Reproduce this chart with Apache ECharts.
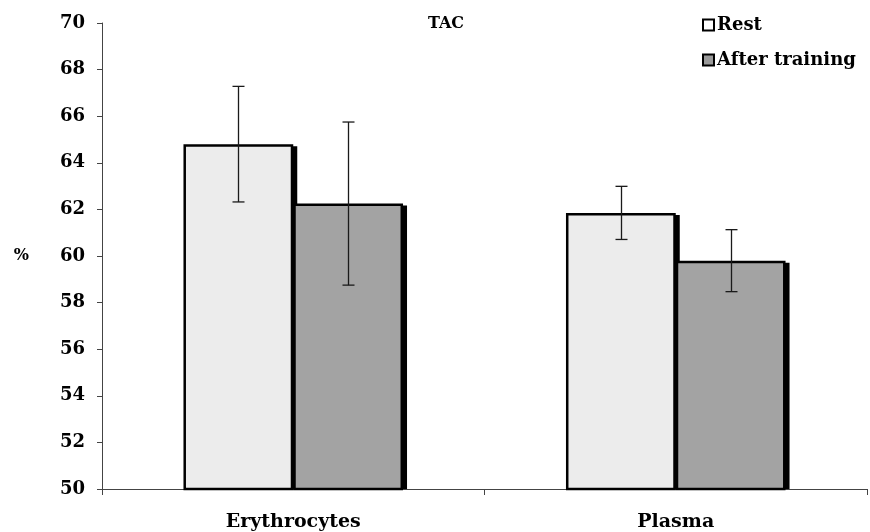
<!DOCTYPE html>
<html>
<head>
<meta charset="utf-8">
<script src="https://cdn.jsdelivr.net/npm/echarts@6/dist/echarts.min.js"></script>
<style>html,body{margin:0;padding:0;background:#fff}#c{width:870px;height:532px}</style>
</head>
<body>
<div id="c"></div>
<script>
var categories = ['Erythrocytes', 'Plasma'];
var seriesNames = ['Rest', 'After training'];
var restValues = [64.8, 61.85];
var afterValues = [62.25, 59.8];
var restErr = [2.48, 1.14];
var afterErr = [3.5, 1.33];
var yTicks = [50, 52, 54, 56, 58, 60, 62, 64, 66, 68, 70];

var chart = echarts.init(document.getElementById('c'), null, {renderer: 'canvas'});
var BAR_PCT = 0.287;
var serif = '"DejaVu Serif", "Liberation Serif", serif';

function errSeries(vals, errs, side) {
  var data = vals.map(function (v, i) { return [i, v - errs[i], v + errs[i]]; });
  return {
    type: 'custom',
    z: 10,
    silent: true,
    renderItem: function (params, api) {
      var ci = api.value(0);
      var lo = api.coord([ci, api.value(1)]);
      var hi = api.coord([ci, api.value(2)]);
      var catW = api.size([1, 0])[0];
      var x = Math.round(lo[0] + side * catW * BAR_PCT / 2) + 0.5;
      var cap = 6;
      var st = {stroke: '#1a1a1a', lineWidth: 1.3};
      return {
        type: 'group',
        children: [
          {type: 'line', shape: {x1: x, y1: lo[1], x2: x, y2: hi[1]}, style: st},
          {type: 'line', shape: {x1: x - cap, y1: lo[1], x2: x + cap, y2: lo[1]}, style: st},
          {type: 'line', shape: {x1: x - cap, y1: hi[1], x2: x + cap, y2: hi[1]}, style: st}
        ]
      };
    },
    data: data
  };
}

// drop shadow behind each bar (offset right/down), drawn via the axes
function shadowSeries(vals, side) {
  var data = vals.map(function (v, i) { return [i, v]; });
  return {
    type: 'custom',
    z: 1,
    silent: true,
    renderItem: function (params, api) {
      var ci = api.value(0);
      var top = api.coord([ci, api.value(1)]);
      var base = api.coord([ci, 50]);
      var catW = api.size([1, 0])[0];
      var bw = catW * BAR_PCT;
      var x0 = side < 0 ? top[0] - bw : top[0];
      return {
        type: 'rect',
        shape: {x: x0 + 4, y: top[1] + 2, width: bw, height: base[1] - top[1] - 2},
        style: {fill: '#000'}
      };
    },
    data: data
  };
}

var barStyle = function (color) {
  return {color: color, borderColor: '#000', borderWidth: 2.5};
};

chart.setOption({
  animation: false,
  backgroundColor: '#fff',
  title: {
    text: 'TAC',
    left: 441,
    top: 11,
    textAlign: 'center',
    textStyle: {fontFamily: serif, fontWeight: 'bold', fontSize: 16, color: '#000'}
  },
  legend: {
    orient: 'vertical',
    left: 697,
    top: 11,
    itemWidth: 11,
    itemHeight: 11,
    itemGap: 17,
    icon: 'rect',
    textStyle: {fontFamily: serif, fontWeight: 'bold', fontSize: 18, color: '#000', padding: [0, 0, 0, -2]},
    data: [
      {name: 'Rest', itemStyle: {color: '#fff', borderColor: '#000', borderWidth: 2}},
      {name: 'After training', itemStyle: {color: '#9a9a9a', borderColor: '#000', borderWidth: 2}}
    ]
  },
  grid: {left: 102, right: 3, top: 23, bottom: 42},
  xAxis: {
    type: 'category',
    data: categories,
    axisLine: {lineStyle: {color: '#444', width: 1}},
    axisTick: {show: true, length: 6, alignWithLabel: false, lineStyle: {color: '#444'}},
    axisLabel: {fontFamily: serif, fontWeight: 'bold', fontSize: 19, color: '#000', margin: 24}
  },
  yAxis: {
    type: 'value',
    min: 50,
    max: 70,
    interval: 2,
    name: '%',
    nameLocation: 'middle',
    nameRotate: 0,
    nameGap: 73,
    nameTextStyle: {fontFamily: serif, fontWeight: 'bold', fontSize: 16, color: '#000'},
    axisLine: {show: true, lineStyle: {color: '#444', width: 1}},
    axisTick: {show: true, length: 5, lineStyle: {color: '#444'}},
    splitLine: {show: false},
    axisLabel: {
      fontFamily: serif, fontWeight: 'bold', fontSize: 18, color: '#000', margin: 17,
      formatter: function (v) { return yTicks.indexOf(v) >= 0 ? String(v) : ''; }
    }
  },
  series: [
    {
      name: seriesNames[0], type: 'bar', data: restValues, z: 3,
      barWidth: (BAR_PCT * 100) + '%', barGap: '0%',
      itemStyle: barStyle('#ececec')
    },
    {
      name: seriesNames[1], type: 'bar', data: afterValues, z: 3,
      barWidth: (BAR_PCT * 100) + '%', barGap: '0%',
      itemStyle: barStyle('#a3a3a3')
    },
    shadowSeries(restValues, -1),
    shadowSeries(afterValues, 1),
    errSeries(restValues, restErr, -1),
    errSeries(afterValues, afterErr, 1)
  ]
});
</script>
</body>
</html>
